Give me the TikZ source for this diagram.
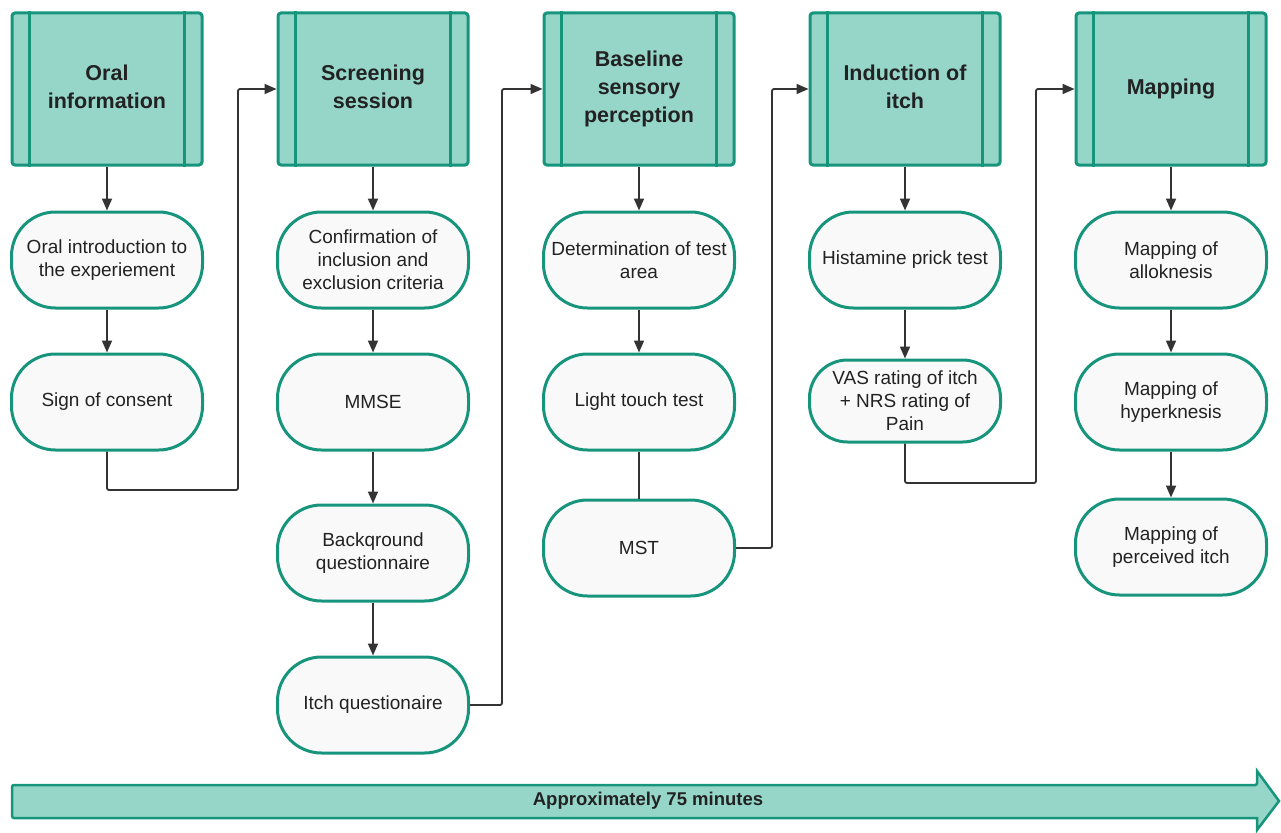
\documentclass[tikz,border=0pt]{standalone}
\usepackage{fontspec}
\setmainfont{Liberation Sans}
\usetikzlibrary{arrows.meta}
\definecolor{tealfill}{HTML}{96D6C9}
\definecolor{tealline}{HTML}{17957C}
\definecolor{boxfill}{HTML}{F9F9F9}
\definecolor{ink}{HTML}{222222}
\definecolor{conncol}{HTML}{333333}
\tikzset{
  headbox/.style={draw=tealline, fill=tealfill, line width=3pt, rounded corners=3pt,
    minimum width=190pt, minimum height=152pt, inner sep=0pt, text=ink, align=center,
    font=\fontsize{21.5pt}{28pt}\selectfont\bfseries},
  stepbox/.style={draw=tealline, fill=boxfill, line width=3pt, rounded corners=44pt,
    minimum width=191pt, minimum height=96pt, inner sep=0pt, text=ink, align=center,
    font=\fontsize{19pt}{23pt}\selectfont},
  hline/.style={draw=tealline, line width=3.2pt},
  conn/.style={draw=conncol, line width=1.8pt, rounded corners=2pt},
  arr/.style={conn, -{Triangle[length=12pt,width=10pt]}},
}
\begin{document}
\begin{tikzpicture}[x=1pt,y=-1pt]
\useasboundingbox (0,0) rectangle (1281,832);
% headers
\node[headbox] (h1) at (107,89) {\raisebox{3pt}{\begin{tabular}{@{}c@{}}Oral\\information\end{tabular}}};
\node[headbox] (h2) at (373,89) {\raisebox{3pt}{\begin{tabular}{@{}c@{}}Screening\\session\end{tabular}}};
\node[headbox] (h3) at (639,89) {\raisebox{3pt}{\begin{tabular}{@{}c@{}}Baseline\\sensory\\perception\end{tabular}}};
\node[headbox] (h4) at (905,89) {\raisebox{3pt}{\begin{tabular}{@{}c@{}}Induction of\\itch\end{tabular}}};
\node[headbox] (h5) at (1171,89) {\raisebox{3pt}{Mapping}};
\foreach \n in {h1,h2,h3,h4,h5}{
  \draw[hline] ([xshift=19pt]\n.north west) -- ([xshift=19pt]\n.south west);
  \draw[hline] ([xshift=-19pt]\n.north east) -- ([xshift=-19pt]\n.south east);
}
% column 1
\node[stepbox] (b11) at (107,260) {Oral introduction to\\the experiement};
\node[stepbox] (b12) at (107,402) {Sign of consent};
% column 2
\node[stepbox] (b21) at (373,260) {Confirmation of\\inclusion and\\exclusion criteria};
\node[stepbox] (b22) at (373,402) {MMSE};
\node[stepbox] (b23) at (373,553) {Backqround\\questionnaire};
\node[stepbox] (b24) at (373,705) {Itch questionaire};
% column 3
\node[stepbox] (b31) at (639,260) {Determination of test\\area};
\node[stepbox] (b32) at (639,402) {Light touch test};
\node[stepbox] (b33) at (639,548) {MST};
% column 4
\node[stepbox] (b41) at (905,260) {Histamine prick test};
\node[stepbox, minimum height=82pt, rounded corners=38pt] (b42) at (905,401) {VAS rating of itch\\+ NRS rating of\\Pain};
% column 5
\node[stepbox] (b51) at (1171,260) {Mapping of\\alloknesis};
\node[stepbox] (b52) at (1171,402) {Mapping of\\hyperknesis};
\node[stepbox] (b53) at (1171,547) {Mapping of\\perceived itch};
% coordinates for connectors
\coordinate (c1) at (238,490);
\coordinate (c2) at (502,89);
\coordinate (c3) at (772,89);
\coordinate (c4) at (1036,483);
% connectors
\draw[arr] (h1.south) -- (b11.north);
\draw[arr] (b11.south) -- (b12.north);
\draw[arr] (b12.south) |- (c1) |- (h2.west);
\draw[arr] (h2.south) -- (b21.north);
\draw[arr] (b21.south) -- (b22.north);
\draw[arr] (b22.south) -- (b23.north);
\draw[arr] (b23.south) -- (b24.north);
\draw[arr] (b24.east) -| (c2) -- (h3.west);
\draw[arr] (h3.south) -- (b31.north);
\draw[arr] (b31.south) -- (b32.north);
\draw[conn] (b32.south) -- (b33.north);
\draw[arr] (b33.east) -| (c3) -- (h4.west);
\draw[arr] (h4.south) -- (b41.north);
\draw[arr] (b41.south) -- (b42.north);
\draw[arr] (b42.south) |- (c4) |- (h5.west);
\draw[arr] (h5.south) -- (b51.north);
\draw[arr] (b51.south) -- (b52.north);
\draw[arr] (b52.south) -- (b53.north);
% timeline arrow
\draw[draw=tealline, fill=tealfill, line width=2.5pt, line join=miter]
  [rounded corners=2pt] (12,785) -- (1257,785) [sharp corners] -- (1257,771) -- (1279,801) -- (1257,830) -- (1257,818) [rounded corners=2pt] -- (12,818) -- cycle;
\node[text=ink, font=\fontsize{18.5pt}{22pt}\selectfont\bfseries, inner sep=0pt] (tl) at (648,801) {Approximately 75 minutes};
\end{tikzpicture}
\end{document}
